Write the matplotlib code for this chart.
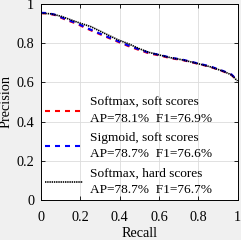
import matplotlib
matplotlib.use('Agg')
import matplotlib.pyplot as plt

# PR curves
recall_soft = [0, 0.03, 0.07, 0.13, 0.18, 0.23, 0.29, 0.33, 0.39, 0.44, 0.50, 0.55,
               0.61, 0.66, 0.72, 0.79, 0.86, 0.93, 0.97, 1.0]
prec_softmax = [0.953, 0.952, 0.944, 0.918, 0.900, 0.876, 0.850, 0.833, 0.808, 0.787, 0.765, 0.748,
                0.736, 0.723, 0.714, 0.697, 0.680, 0.655, 0.638, 0.607]
prec_sigmoid = [0.955, 0.954, 0.946, 0.921, 0.903, 0.879, 0.853, 0.836, 0.811, 0.790, 0.768, 0.751,
                0.739, 0.726, 0.716, 0.699, 0.682, 0.657, 0.640, 0.609]
recall_hard = [0, 0.05, 0.10, 0.155, 0.20, 0.255, 0.32, 0.39, 0.45, 0.50, 0.55, 0.61,
               0.66, 0.72, 0.79, 0.86, 0.93, 0.97, 1.0]
prec_hard = [0.953, 0.950, 0.938, 0.918, 0.902, 0.884, 0.852, 0.818, 0.795, 0.772, 0.753, 0.738,
             0.726, 0.715, 0.698, 0.680, 0.656, 0.638, 0.607]

labels = ['Softmax, soft scores\nAP=78.1%  F1=76.9%',
          'Sigmoid, soft scores\nAP=78.7%  F1=76.6%',
          'Softmax, hard scores\nAP=78.7%  F1=76.7%']
ticks = [0, 0.2, 0.4, 0.6, 0.8, 1]
tick_labels = ['0', '0.2', '0.4', '0.6', '0.8', '1']

plt.rcParams.update({
    'font.family': 'Liberation Serif',
    'font.size': 10.3,
    'lines.scale_dashes': False,
})

fig = plt.figure(figsize=(2.41, 2.40), dpi=100, facecolor='#f0f0f0')
ax = fig.add_axes([41 / 241, 40 / 240, 196.5 / 241, 196 / 240])
ax.set_facecolor('white')

ax.plot(recall_soft, prec_softmax, color='#ff0000', lw=1.5, dashes=(3.6, 3.6), label=labels[0])
ax.plot(recall_soft, prec_sigmoid, color='#0000ff', lw=1.5, dashes=(3.6, 3.6), label=labels[1])
ax.plot(recall_hard, prec_hard, color='black', lw=1.2, dashes=(1.0, 0.6), label=labels[2])

ax.set_xlim(0, 1)
ax.set_ylim(0, 1)
ax.set_xticks(ticks)
ax.set_xticklabels(tick_labels)
ax.set_yticks(ticks)
ax.set_yticklabels(tick_labels)
ax.tick_params(direction='in', length=3, width=0.6, top=True, right=True)
ax.tick_params(axis='x', pad=8)
ax.tick_params(axis='y', pad=5)
ax.grid(True, color='#dcdcdc', lw=0.6)
for s in ax.spines.values():
    s.set_linewidth(0.7)
ax.set_xlabel('Recall', labelpad=2)
ax.set_ylabel('Precision', labelpad=3)

leg = ax.legend(loc='lower left', bbox_to_anchor=(0.02, 0.02), frameon=False,
                borderaxespad=0, borderpad=0, handlelength=2.85, handletextpad=0.55,
                labelspacing=0.57, prop={'size': 9.6})
for t in leg.get_texts():
    t.set_linespacing(1.45)

fig.savefig('out.png', dpi=100, facecolor=fig.get_facecolor())
